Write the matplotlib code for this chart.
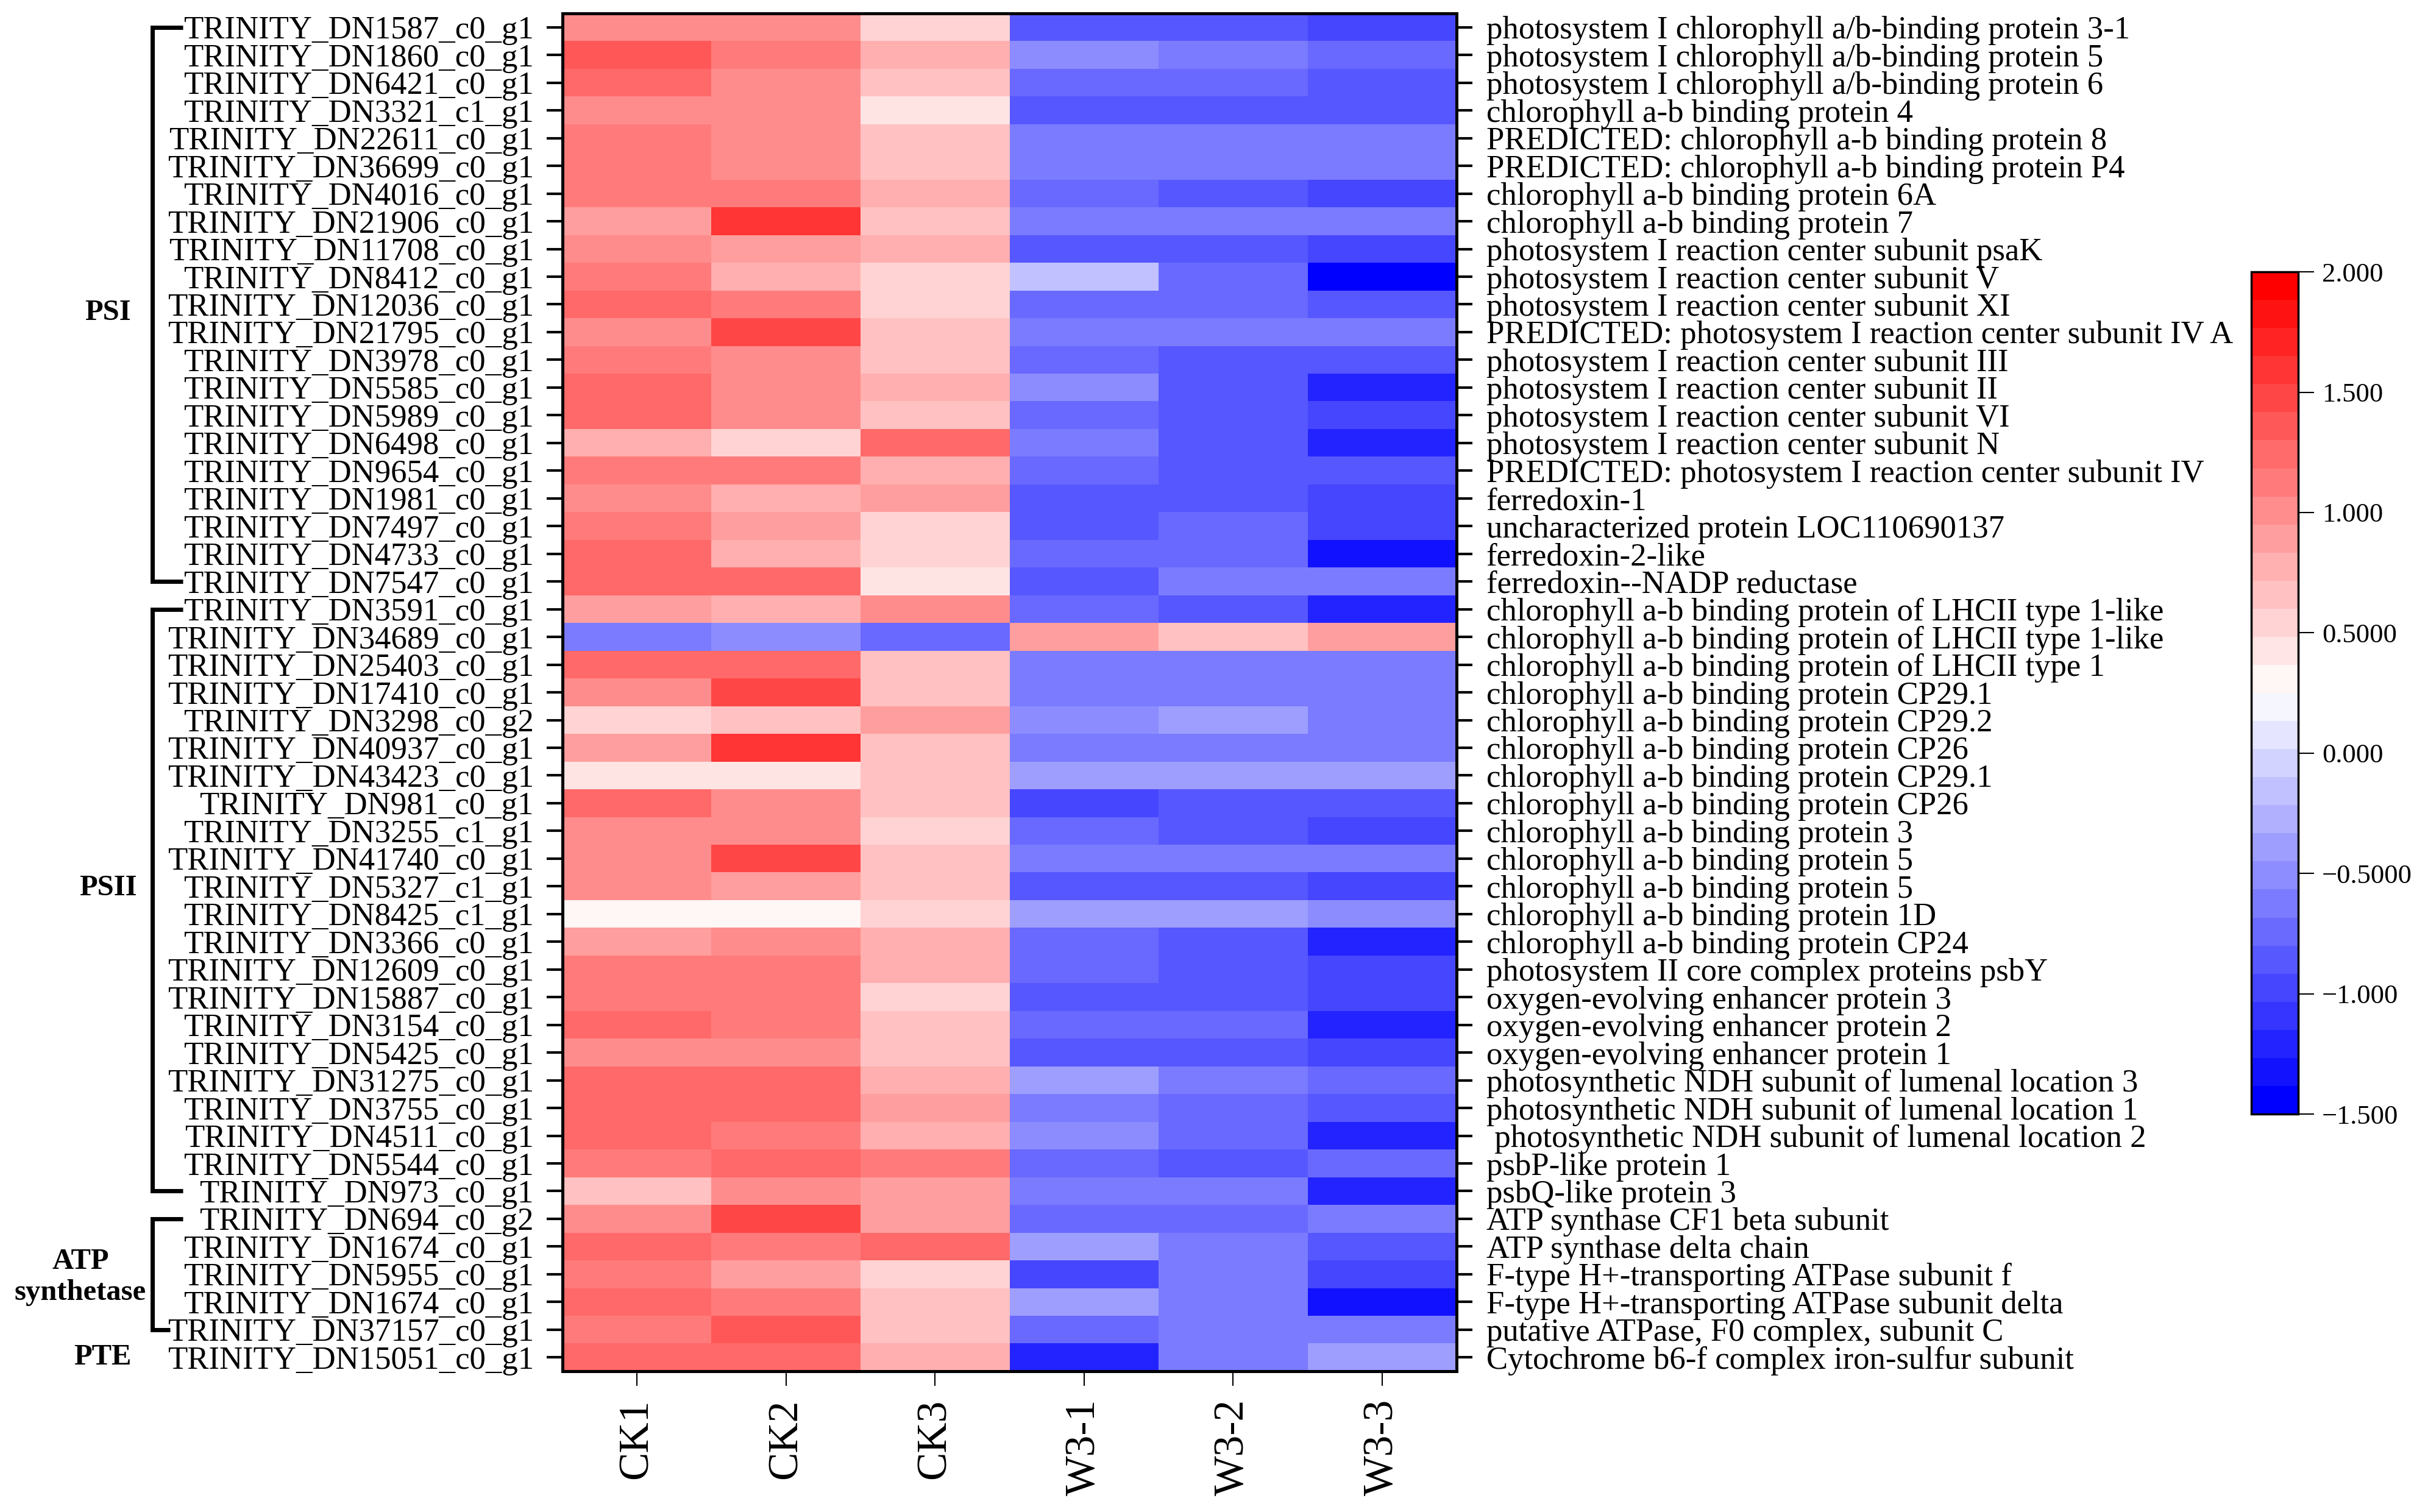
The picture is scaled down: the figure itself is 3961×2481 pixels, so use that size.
import numpy as np
import matplotlib
matplotlib.use('Agg')
import matplotlib.pyplot as plt
from matplotlib.colors import LinearSegmentedColormap, Normalize
from matplotlib import transforms

plt.rcParams['font.family'] = 'serif'
plt.rcParams['font.serif'] = ['Liberation Serif', 'DejaVu Serif']

samples = ['CK1', 'CK2', 'CK3', 'W3-1', 'W3-2', 'W3-3']

gene_ids = [
    'TRINITY_DN1587_c0_g1', 'TRINITY_DN1860_c0_g1', 'TRINITY_DN6421_c0_g1',
    'TRINITY_DN3321_c1_g1', 'TRINITY_DN22611_c0_g1', 'TRINITY_DN36699_c0_g1',
    'TRINITY_DN4016_c0_g1', 'TRINITY_DN21906_c0_g1', 'TRINITY_DN11708_c0_g1',
    'TRINITY_DN8412_c0_g1', 'TRINITY_DN12036_c0_g1', 'TRINITY_DN21795_c0_g1',
    'TRINITY_DN3978_c0_g1', 'TRINITY_DN5585_c0_g1', 'TRINITY_DN5989_c0_g1',
    'TRINITY_DN6498_c0_g1', 'TRINITY_DN9654_c0_g1', 'TRINITY_DN1981_c0_g1',
    'TRINITY_DN7497_c0_g1', 'TRINITY_DN4733_c0_g1', 'TRINITY_DN7547_c0_g1',
    'TRINITY_DN3591_c0_g1', 'TRINITY_DN34689_c0_g1', 'TRINITY_DN25403_c0_g1',
    'TRINITY_DN17410_c0_g1', 'TRINITY_DN3298_c0_g2', 'TRINITY_DN40937_c0_g1',
    'TRINITY_DN43423_c0_g1', 'TRINITY_DN981_c0_g1', 'TRINITY_DN3255_c1_g1',
    'TRINITY_DN41740_c0_g1', 'TRINITY_DN5327_c1_g1', 'TRINITY_DN8425_c1_g1',
    'TRINITY_DN3366_c0_g1', 'TRINITY_DN12609_c0_g1', 'TRINITY_DN15887_c0_g1',
    'TRINITY_DN3154_c0_g1', 'TRINITY_DN5425_c0_g1', 'TRINITY_DN31275_c0_g1',
    'TRINITY_DN3755_c0_g1', 'TRINITY_DN4511_c0_g1', 'TRINITY_DN5544_c0_g1',
    'TRINITY_DN973_c0_g1', 'TRINITY_DN694_c0_g2', 'TRINITY_DN1674_c0_g1',
    'TRINITY_DN5955_c0_g1', 'TRINITY_DN1674_c0_g1', 'TRINITY_DN37157_c0_g1',
    'TRINITY_DN15051_c0_g1',
]

gene_names = [
    'photosystem I chlorophyll a/b-binding protein 3-1',
    'photosystem I chlorophyll a/b-binding protein 5',
    'photosystem I chlorophyll a/b-binding protein 6',
    'chlorophyll a-b binding protein 4',
    'PREDICTED: chlorophyll a-b binding protein 8',
    'PREDICTED: chlorophyll a-b binding protein P4',
    'chlorophyll a-b binding protein 6A',
    'chlorophyll a-b binding protein 7',
    'photosystem I reaction center subunit psaK',
    'photosystem I reaction center subunit V',
    'photosystem I reaction center subunit XI',
    'PREDICTED: photosystem I reaction center subunit IV A',
    'photosystem I reaction center subunit III',
    'photosystem I reaction center subunit II',
    'photosystem I reaction center subunit VI',
    'photosystem I reaction center subunit N',
    'PREDICTED: photosystem I reaction center subunit IV',
    'ferredoxin-1',
    'uncharacterized protein LOC110690137',
    'ferredoxin-2-like',
    'ferredoxin--NADP reductase',
    'chlorophyll a-b binding protein of LHCII type 1-like',
    'chlorophyll a-b binding protein of LHCII type 1-like',
    'chlorophyll a-b binding protein of LHCII type 1',
    'chlorophyll a-b binding protein CP29.1',
    'chlorophyll a-b binding protein CP29.2',
    'chlorophyll a-b binding protein CP26',
    'chlorophyll a-b binding protein CP29.1',
    'chlorophyll a-b binding protein CP26',
    'chlorophyll a-b binding protein 3',
    'chlorophyll a-b binding protein 5',
    'chlorophyll a-b binding protein 5',
    'chlorophyll a-b binding protein 1D',
    'chlorophyll a-b binding protein CP24',
    'photosystem II core complex proteins psbY',
    'oxygen-evolving enhancer protein 3',
    'oxygen-evolving enhancer protein 2',
    'oxygen-evolving enhancer protein 1',
    'photosynthetic NDH subunit of lumenal location 3',
    'photosynthetic NDH subunit of lumenal location 1',
    ' photosynthetic NDH subunit of lumenal location 2',
    'psbP-like protein 1',
    'psbQ-like protein 3',
    'ATP synthase CF1 beta subunit',
    'ATP synthase delta chain',
    'F-type H+-transporting ATPase subunit f',
    'F-type H+-transporting ATPase subunit delta',
    'putative ATPase, F0 complex, subunit C',
    'Cytochrome b6-f complex iron-sulfur subunit',
]

# z-scores, one list per sample
ck1 = [1.01, 1.36, 1.24, 1.01, 1.13, 1.13, 1.13, 0.89, 1.01, 1.13,
       1.24, 1.01, 1.13, 1.24, 1.24, 0.78, 1.13, 1.01, 1.13, 1.24,
       1.24, 0.89, -0.63, 1.24, 1.01, 0.54, 0.89, 0.43, 1.24, 1.01,
       1.01, 1.01, 0.31, 0.89, 1.13, 1.13, 1.24, 1.01, 1.24, 1.24,
       1.24, 1.13, 0.66, 1.01, 1.24, 1.13, 1.24, 1.13, 1.24]
ck2 = [1.01, 1.13, 1.01, 1.01, 1.01, 1.01, 1.13, 1.59, 0.89, 0.78,
       1.13, 1.48, 1.01, 1.01, 1.01, 0.54, 1.13, 0.78, 0.89, 0.78,
       1.24, 0.78, -0.51, 1.24, 1.48, 0.66, 1.59, 0.43, 1.01, 1.01,
       1.48, 0.89, 0.31, 1.01, 1.13, 1.13, 1.13, 1.01, 1.24, 1.24,
       1.13, 1.24, 1.01, 1.48, 1.13, 0.89, 1.13, 1.36, 1.24]
ck3 = [0.54, 0.78, 0.66, 0.43, 0.66, 0.66, 0.78, 0.66, 0.78, 0.54,
       0.54, 0.66, 0.66, 0.78, 0.66, 1.24, 0.78, 0.89, 0.54, 0.54,
       0.43, 1.01, -0.74, 0.66, 0.66, 0.89, 0.66, 0.66, 0.66, 0.54,
       0.66, 0.66, 0.54, 0.78, 0.78, 0.54, 0.66, 0.66, 0.78, 0.89,
       0.78, 1.13, 0.89, 0.89, 1.24, 0.54, 0.66, 0.66, 0.78]
w3_1 = [-0.86, -0.51, -0.74, -0.86, -0.63, -0.63, -0.74, -0.63, -0.86, -0.16,
        -0.74, -0.63, -0.74, -0.51, -0.74, -0.63, -0.74, -0.86, -0.86, -0.74,
        -0.86, -0.74, 0.89, -0.63, -0.63, -0.51, -0.63, -0.39, -0.98, -0.74,
        -0.63, -0.86, -0.39, -0.74, -0.74, -0.86, -0.74, -0.86, -0.39, -0.63,
        -0.51, -0.74, -0.63, -0.74, -0.39, -0.98, -0.39, -0.74, -1.21]
w3_2 = [-0.86, -0.63, -0.74, -0.86, -0.63, -0.63, -0.86, -0.63, -0.86, -0.74,
        -0.74, -0.63, -0.86, -0.86, -0.86, -0.86, -0.86, -0.86, -0.74, -0.74,
        -0.63, -0.86, 0.66, -0.63, -0.63, -0.39, -0.63, -0.39, -0.86, -0.86,
        -0.63, -0.86, -0.39, -0.86, -0.86, -0.86, -0.74, -0.86, -0.63, -0.74,
        -0.74, -0.86, -0.63, -0.74, -0.63, -0.63, -0.63, -0.63, -0.63]
w3_3 = [-0.98, -0.74, -0.86, -0.86, -0.63, -0.63, -0.98, -0.63, -0.98, -1.44,
        -0.86, -0.63, -0.86, -1.21, -0.98, -1.21, -0.86, -0.98, -0.98, -1.33,
        -0.63, -1.21, 0.89, -0.63, -0.63, -0.63, -0.63, -0.39, -0.86, -0.98,
        -0.63, -0.98, -0.51, -1.21, -0.98, -0.98, -1.21, -0.98, -0.74, -0.86,
        -1.21, -0.74, -1.21, -0.63, -0.86, -0.98, -1.33, -0.63, -0.39]

# group name, first row, last row
groups = [('PSI', 0, 20), ('PSII', 21, 42), ('ATP\nsynthetase', 43, 47), ('PTE', 48, 48)]

cb_ticks = [-1.5, -1.0, -0.5, 0.0, 0.5, 1.0, 1.5, 2.0]
cb_labels = ['\u22121.500', '\u22121.000', '\u22120.5000', '0.000',
             '0.5000', '1.000', '1.500', '2.000']

data = np.column_stack([ck1, ck2, ck3, w3_1, w3_2, w3_3])
n_rows = data.shape[0]

cmap = LinearSegmentedColormap.from_list('bwr30', ['#0000ff', '#ffffff', '#ff0000'], N=30)
norm = Normalize(vmin=-1.5, vmax=2.0)

fig = plt.figure(figsize=(39.61, 24.81), dpi=100)
ax = fig.add_axes([0.2330, 0.0931, 0.3704, 0.8980])
im = ax.imshow(data, cmap=cmap, norm=norm, aspect='auto', interpolation='nearest')

ax.set_xticks(range(len(samples)))
ax.set_xticklabels(samples, rotation=90, fontsize=50)
ax.set_yticks(range(n_rows))
ax.set_yticklabels(gene_ids, fontsize=38)
ax.tick_params(axis='x', length=17, width=1.5, pad=16)
ax.tick_params(axis='y', length=19, width=3, pad=15)
for sp in ax.spines.values():
    sp.set_linewidth(3.5)

ax2 = ax.twinx()
ax2.set_ylim(ax.get_ylim())
ax2.set_yticks(range(n_rows))
ax2.set_yticklabels(gene_names, fontsize=38)
ax2.tick_params(axis='y', length=19, width=3, pad=16)
for sp in ax2.spines.values():
    sp.set_linewidth(3.5)

# brackets and group names on the far left
blend = transforms.blended_transform_factory(fig.transFigure, ax.transData)
x_bar = 0.0630
x_arm = 0.0757
label_x = {'PSI': 0.0447, 'PSII': 0.0447, 'ATP\nsynthetase': 0.0333, 'PTE': 0.0424}
label_y = {'PSI': 10.3, 'PSII': 31.05, 'ATP\nsynthetase': 45.1, 'PTE': 48.0}
for name, r0, r1 in groups:
    if r1 > r0:
        bottom_arm = 0.0704 if name.startswith('ATP') else x_arm
        ax.plot([x_arm, x_bar, x_bar, bottom_arm], [r0, r0, r1, r1],
                color='black', lw=5, transform=blend, clip_on=False,
                solid_capstyle='butt', solid_joinstyle='miter')
    ax.text(label_x[name], label_y[name], name, transform=blend,
            ha='center', va='center', fontsize=35, fontweight='bold',
            linespacing=1.2)

cax = fig.add_axes([0.9326, 0.2632, 0.0194, 0.5570])
cb = fig.colorbar(im, cax=cax, ticks=cb_ticks)
cb.ax.set_yticklabels(cb_labels)
cb.ax.tick_params(length=19, width=1.5, pad=9, labelsize=32)
cb.outline.set_linewidth(2.5)

fig.savefig('out.png', dpi=100)
